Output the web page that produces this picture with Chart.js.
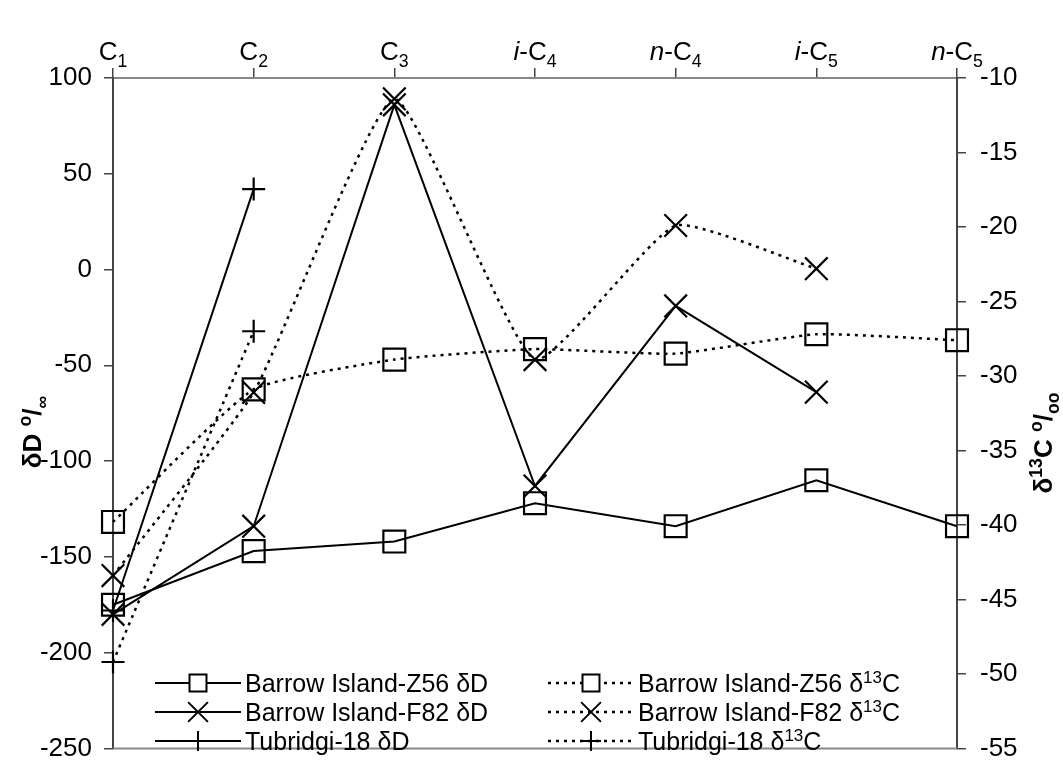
<!DOCTYPE html>
<html>
<head>
<meta charset="utf-8">
<script src="https://cdn.jsdelivr.net/npm/chart.js@4.4.1/dist/chart.umd.min.js"></script>
<style>
  html, body { margin: 0; padding: 0; background: #fff; }
  #wrap { width: 1063px; height: 778px; position: relative; }
</style>
</head>
<body>
<div id="wrap"><canvas id="myChart" width="1063" height="778"></canvas></div>
<script>
// categorías (eje superior)
const categories = ["C1", "C2", "C3", "i-C4", "n-C4", "i-C5", "n-C5"];
// etiquetas con subíndices / cursivas
const categoryParts = [
  [["C"], ["1", "sub"]],
  [["C"], ["2", "sub"]],
  [["C"], ["3", "sub"]],
  [["i", "it"], ["-C"], ["4", "sub"]],
  [["n", "it"], ["-C"], ["4", "sub"]],
  [["i", "it"], ["-C"], ["5", "sub"]],
  [["n", "it"], ["-C"], ["5", "sub"]]
];

// δD (eje izquierdo)
const z56D = [-175, -147, -142, -122, -134, -110, -134];
const f82D = [-180, -134, 86, -113, -19, -64, null];
const tubD = [-178, 42, null, null, null, null, null];
// δ13C (eje derecho)
const z56C = [-39.8, -30.9, -28.9, -28.2, -28.5, -27.2, -27.6];
const f82C = [-43.4, -31.1, -11.4, -28.9, -19.9, -22.8, null];
const tubC = [-49.2, -27.0, null, null, null, null, null];

const leftTicks = [100, 50, 0, -50, -100, -150, -200, -250];
const rightTicks = [-10, -15, -20, -25, -30, -35, -40, -45, -50, -55];

const FONT = "'Liberation Sans', Arial, sans-serif";
const DOTS = [3, 5];

// medir / dibujar texto con partes sup/sub/it
function richWidth(ctx, parts, size, bold) {
  let w = 0;
  parts.forEach(function (p) {
    const s = (p[1] === "sub" || p[1] === "sup") ? size * 0.68 : size;
    ctx.font = (p[1] === "it" ? "italic " : "") + (bold ? "bold " : "") + s + "px " + FONT;
    w += ctx.measureText(p[0]).width;
  });
  return w;
}
function drawRich(ctx, parts, x, y, size, bold) {
  ctx.textBaseline = "alphabetic";
  ctx.textAlign = "left";
  parts.forEach(function (p) {
    let s = size, dy = 0;
    if (p[1] === "sub") { s = size * 0.68; dy = size * 0.28; }
    if (p[1] === "sup") { s = size * 0.68; dy = -size * 0.38; }
    ctx.font = (p[1] === "it" ? "italic " : "") + (bold ? "bold " : "") + s + "px " + FONT;
    ctx.fillText(p[0], x, y + dy);
    x += ctx.measureText(p[0]).width;
  });
  return x;
}

const legendItems = [
  { parts: [["Barrow Island-Z56 δD"]], style: "rect", dash: [], col: 0, row: 0 },
  { parts: [["Barrow Island-F82 δD"]], style: "crossRot", dash: [], col: 0, row: 1 },
  { parts: [["Tubridgi-18 δD"]], style: "cross", dash: [], col: 0, row: 2 },
  { parts: [["Barrow Island-Z56 δ"], ["13", "sup"], ["C"]], style: "rect", dash: DOTS, col: 1, row: 0 },
  { parts: [["Barrow Island-F82 δ"], ["13", "sup"], ["C"]], style: "crossRot", dash: DOTS, col: 1, row: 1 },
  { parts: [["Tubridgi-18 δ"], ["13", "sup"], ["C"]], style: "cross", dash: DOTS, col: 1, row: 2 }
];

const decorPlugin = {
  id: "decor",
  afterDraw(chart) {
    const ctx = chart.ctx;
    const area = chart.chartArea;
    const xs = chart.scales.x;
    ctx.save();
    ctx.fillStyle = "#000";

    // etiquetas superiores
    categoryParts.forEach(function (parts, i) {
      const cx = xs.getPixelForValue(i);
      const w = richWidth(ctx, parts, 26, false);
      drawRich(ctx, parts, cx - w / 2, 60, 26, false);
    });

    // borde inferior
    ctx.strokeStyle = "#888";
    ctx.lineWidth = 2;
    ctx.beginPath();
    ctx.moveTo(area.left, area.bottom);
    ctx.lineTo(area.right, area.bottom);
    ctx.stroke();

    // título eje izquierdo
    const lt = [["δD "], ["o", "sup"], ["/"], ["∞", "sub"]];
    ctx.save();
    ctx.translate(41, 432);
    ctx.rotate(-Math.PI / 2);
    let w = richWidth(ctx, lt, 26, true);
    drawRich(ctx, lt, -w / 2, 0, 26, true);
    ctx.restore();

    // título eje derecho
    const rt = [["δ"], ["13", "sup"], ["C "], ["o", "sup"], ["/"], ["oo", "sub"]];
    ctx.save();
    ctx.translate(1052, 443);
    ctx.rotate(-Math.PI / 2);
    w = richWidth(ctx, rt, 26, true);
    drawRich(ctx, rt, -w / 2, 0, 26, true);
    ctx.restore();

    // leyenda
    const colX = [155, 548];
    const rowY = [683, 712, 741];
    legendItems.forEach(function (it) {
      const x0 = colX[it.col];
      const y = rowY[it.row];
      ctx.strokeStyle = "#000";
      ctx.lineWidth = it.dash.length ? 2.5 : 2;
      ctx.setLineDash(it.dash);
      ctx.beginPath();
      ctx.moveTo(x0, y);
      ctx.lineTo(x0 + 86, y);
      ctx.stroke();
      ctx.setLineDash([]);
      const r = it.style === "rect" ? 12 : (it.style === "crossRot" ? 14 : 10);
      ctx.fillStyle = "#fff";
      ctx.lineWidth = 2;
      Chart.helpers.drawPoint(ctx, { pointStyle: it.style, radius: r, borderWidth: 2 }, x0 + 43, y);
      ctx.fillStyle = "#000";
      drawRich(ctx, it.parts, x0 + 90, y + 9, 25, false);
    });
    ctx.restore();
  }
};

function ds(label, data, axis, style, radius, dashed) {
  return {
    label: label,
    data: data,
    yAxisID: axis,
    borderColor: "#000",
    borderWidth: dashed ? 2.5 : 2,
    borderDash: dashed ? DOTS : [],
    tension: dashed ? 0.15 : 0,
    fill: false,
    spanGaps: false,
    pointStyle: style,
    pointRadius: radius,
    pointHoverRadius: radius,
    pointBorderWidth: 2.2,
    pointBorderColor: "#000",
    pointBackgroundColor: "rgba(0,0,0,0)"
  };
}

const ctx = document.getElementById("myChart").getContext("2d");
window.myChart = new Chart(ctx, {
  type: "line",
  data: {
    labels: categories,
    datasets: [
      ds("Barrow Island-Z56 δD", z56D, "y", "rect", 15.5, false),
      ds("Barrow Island-F82 δD", f82D, "y", "crossRot", 16, false),
      ds("Tubridgi-18 δD", tubD, "y", "cross", 11.5, false),
      ds("Barrow Island-Z56 δ13C", z56C, "y2", "rect", 15.5, true),
      ds("Barrow Island-F82 δ13C", f82C, "y2", "crossRot", 16, true),
      ds("Tubridgi-18 δ13C", tubC, "y2", "cross", 11.5, true)
    ]
  },
  options: {
    responsive: false,
    animation: false,
    layout: { padding: { left: 0, right: 0, top: 0, bottom: 10 } },
    plugins: {
      legend: { display: false },
      tooltip: { enabled: false }
    },
    scales: {
      x: {
        position: "top",
        offset: false,
        grid: { drawOnChartArea: false, drawTicks: true, tickLength: 10, color: "#444", lineWidth: 1.5 },
        border: { display: true, color: "#888", width: 2 },
        ticks: { display: false },
        afterFit(s) { s.height = 78; }
      },
      y: {
        position: "left",
        min: -250,
        max: 100,
        afterBuildTicks(s) { s.ticks = leftTicks.map(function (v) { return { value: v }; }); },
        ticks: { color: "#000", font: { family: FONT, size: 26 }, padding: 12 },
        grid: { drawOnChartArea: false, tickLength: 9, color: "#444", lineWidth: 1.5 },
        border: { color: "#444", width: 2 },
        afterFit(s) { s.width = 113; }
      },
      y2: {
        position: "right",
        min: -55,
        max: -10,
        afterBuildTicks(s) { s.ticks = rightTicks.map(function (v) { return { value: v }; }); },
        ticks: { color: "#000", font: { family: FONT, size: 26 }, padding: 14 },
        grid: { drawOnChartArea: false, tickLength: 9, color: "#444", lineWidth: 1.5 },
        border: { color: "#444", width: 2 },
        afterFit(s) { s.width = 106; }
      }
    }
  },
  plugins: [decorPlugin]
});
</script>
</body>
</html>
